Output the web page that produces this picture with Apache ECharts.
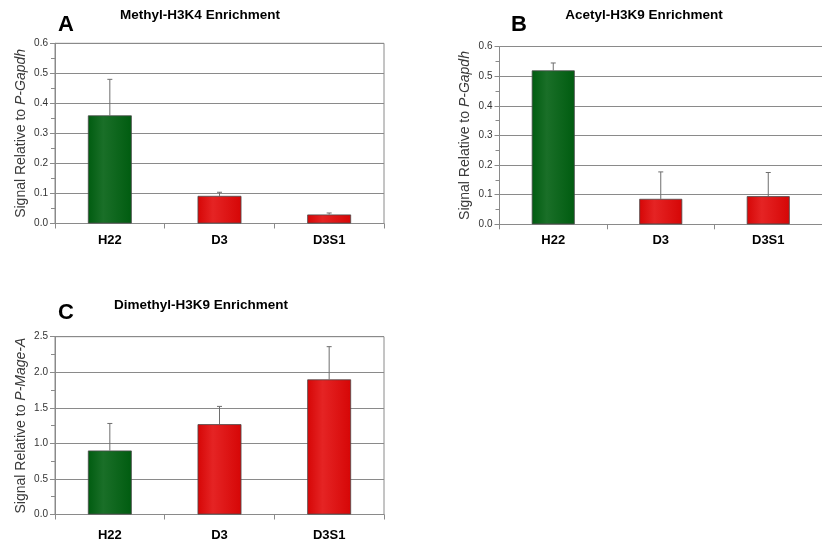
<!DOCTYPE html>
<html>
<head>
<meta charset="utf-8">
<script src="https://cdn.jsdelivr.net/npm/echarts@6/dist/echarts.min.js"></script>
<style>
  html, body { margin: 0; padding: 0; background: #fff; }
  #chart { width: 822px; height: 547px; }
</style>
</head>
<body>
<div id="chart"></div>
<script>
// Cell lines shared by all three panels
const categories = ['H22', 'D3', 'D3S1'];

// Panel A: Methyl-H3K4 enrichment (mean and top of error bar)
const methylK4Mean = [0.36, 0.092, 0.03];
const methylK4Upper = [0.48, 0.104, 0.035];

// Panel B: Acetyl-H3K9 enrichment
const acetylK9Mean = [0.52, 0.086, 0.095];
const acetylK9Upper = [0.545, 0.177, 0.175];

// Panel C: Dimethyl-H3K9 enrichment
const dimethylK9Mean = [0.90, 1.27, 1.90];
const dimethylK9Upper = [1.28, 1.52, 2.36];

const FONT = 'Liberation Sans, Arial, sans-serif';

function grad(edge, mid) {
  return new echarts.graphic.LinearGradient(0, 0, 1, 0, [
    { offset: 0, color: edge },
    { offset: 0.35, color: mid },
    { offset: 1, color: edge }
  ]);
}
const greenFill = grad('#005c10', '#1a6f28');
const redFill = grad('#d60606', '#e52424');

function barData(values) {
  return values.map((v, i) => ({
    value: v,
    itemStyle: { color: i === 0 ? greenFill : redFill }
  }));
}

function errorSeries(idx, means, uppers) {
  return {
    type: 'custom',
    xAxisIndex: idx,
    yAxisIndex: idx,
    z: 1,
    data: means.map((m, i) => [i, m, uppers[i]]),
    renderItem: function (params, api) {
      const base = api.coord([api.value(0), api.value(1)]);
      const top = api.coord([api.value(0), api.value(2)]);
      const style = { stroke: '#6e6e6e', lineWidth: 1 };
      return {
        type: 'group',
        children: [
          { type: 'line', shape: { x1: base[0], y1: base[1], x2: top[0], y2: top[1] }, style: style },
          { type: 'line', shape: { x1: top[0] - 2.5, y1: top[1], x2: top[0] + 2.5, y2: top[1] }, style: style }
        ]
      };
    }
  };
}

// Panel B runs past the right edge of the page, so its frame is left off
const grids = [
  { left: 55, top: 43.3, width: 329, height: 180.2, show: true },
  { left: 499.5, top: 46.7, width: 328.5, height: 177.6, show: false },
  { left: 55, top: 336.7, width: 329, height: 177.8, show: true }
];

function xAxis(idx, margin) {
  return {
    type: 'category',
    gridIndex: idx,
    data: categories,
    boundaryGap: true,
    axisLine: { lineStyle: { color: '#8a8a8a', width: 1 } },
    axisTick: { show: true, length: 5, inside: false, lineStyle: { color: '#8a8a8a' } },
    axisLabel: { color: '#000', fontFamily: FONT, fontWeight: 'bold', fontSize: 13, margin: margin }
  };
}

function yAxis(idx, max, interval, gene) {
  return {
    type: 'value',
    gridIndex: idx,
    min: 0,
    max: max,
    interval: interval,
    name: '{n|Signal Relative to }{i|' + gene + '}',
    nameLocation: 'middle',
    nameGap: 27,
    nameTextStyle: {
      rich: {
        n: { fontFamily: FONT, fontSize: 14, color: '#3a3a3a' },
        i: { fontFamily: FONT, fontSize: 14, color: '#3a3a3a', fontStyle: 'italic' }
      }
    },
    axisLine: { show: true, lineStyle: { color: '#8a8a8a', width: 1 } },
    axisTick: { show: true, length: 5, lineStyle: { color: '#8a8a8a' } },
    minorTick: { show: true, splitNumber: 2, length: 4, lineStyle: { color: '#8a8a8a' } },
    splitLine: { show: true, lineStyle: { color: '#8a8a8a', width: 1 } },
    axisLabel: {
      color: '#333', fontFamily: FONT, fontSize: 10, margin: 7,
      formatter: v => v.toFixed(1)
    }
  };
}

function barSeries(idx, values) {
  return {
    type: 'bar',
    xAxisIndex: idx,
    yAxisIndex: idx,
    barWidth: '40%',
    z: 2,
    data: barData(values),
    itemStyle: { borderColor: '#4a4a4a', borderWidth: 0.8 },
    emphasis: { disabled: true }
  };
}

function caption(x, y, text, size) {
  return {
    type: 'text', x: x, y: y,
    style: {
      text: text, fontFamily: FONT, fontWeight: 'bold', fontSize: size,
      fill: '#000', textAlign: 'center', textVerticalAlign: 'middle'
    }
  };
}

const chart = echarts.init(document.getElementById('chart'), null, { renderer: 'canvas' });
chart.setOption({
  animation: false,
  backgroundColor: '#fff',
  grid: grids.map(g => Object.assign({ borderColor: '#8a8a8a', borderWidth: 1, backgroundColor: 'transparent' }, g)),
  xAxis: [xAxis(0, 10), xAxis(1, 10), xAxis(2, 14)],
  yAxis: [
    yAxis(0, 0.6, 0.1, 'P-Gapdh'),
    yAxis(1, 0.6, 0.1, 'P-Gapdh'),
    yAxis(2, 2.5, 0.5, 'P-Mage-A')
  ],
  series: [
    barSeries(0, methylK4Mean), errorSeries(0, methylK4Mean, methylK4Upper),
    barSeries(1, acetylK9Mean), errorSeries(1, acetylK9Mean, acetylK9Upper),
    barSeries(2, dimethylK9Mean), errorSeries(2, dimethylK9Mean, dimethylK9Upper)
  ],
  graphic: [
    caption(66, 25, 'A', 22),
    caption(519, 25, 'B', 22),
    caption(66, 313, 'C', 22),
    caption(200, 15, 'Methyl-H3K4 Enrichment', 13.5),
    caption(644, 15, 'Acetyl-H3K9 Enrichment', 13.5),
    caption(201, 305, 'Dimethyl-H3K9 Enrichment', 13.5)
  ]
});
</script>
</body>
</html>
